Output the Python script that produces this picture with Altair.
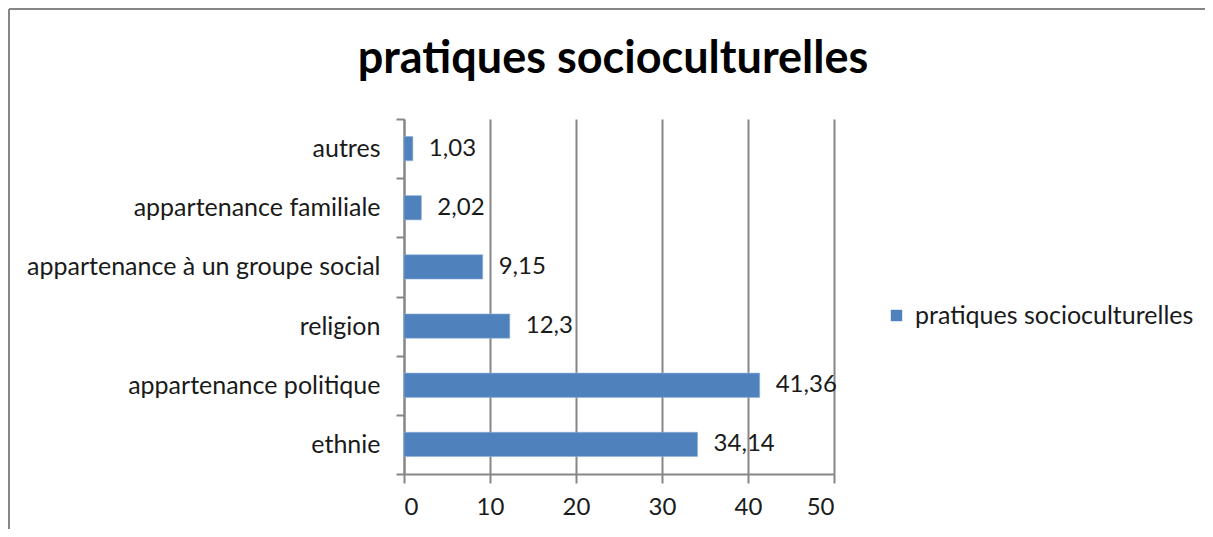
import altair as alt
import pandas as pd

categories = ["autres", "appartenance familiale", "appartenance à un groupe social",
              "religion", "appartenance politique", "ethnie"]
values = [1.03, 2.02, 9.15, 12.3, 41.36, 34.14]
series_name = "pratiques socioculturelles"
x_ticks = [0, 10, 20, 30, 40, 50]

df = pd.DataFrame({
    "cat": categories,
    "val": values,
    "lab": [str(v).replace(".", ",") for v in values],
    "serie": [series_name] * len(values),
})

FONT = "Lato"
GRAY = "#868686"
TXT = "#1a1a1a"
W, H = 430, 355

y_enc = alt.Y("cat:N", sort=categories, title=None,
              scale=alt.Scale(paddingInner=0, paddingOuter=0),
              axis=alt.Axis(tickBand="extent", tickSize=8, tickColor=GRAY, tickWidth=2,
                            domainColor=GRAY, domainWidth=2, labelPadding=16,
                            labelFont=FONT, labelFontSize=25, labelColor=TXT,
                            labelLimit=500, grid=False))
x_enc = alt.X("val:Q", title=None,
              scale=alt.Scale(domain=[0, 50], nice=False),
              axis=alt.Axis(values=x_ticks, tickSize=9, tickColor=GRAY, tickWidth=2,
                            domainColor=GRAY, domainWidth=2, grid=True,
                            gridColor=GRAY, gridWidth=2, labelPadding=12,
                            labelFont=FONT, labelFontSize=24, labelColor=TXT))

bars = alt.Chart(df).mark_bar(stroke="#8fb0d9", strokeWidth=0.6,
                              height=alt.RelativeBandSize(0.41)).encode(
    x=x_enc,
    y=y_enc,
    color=alt.Color("serie:N", title=None,
                    scale=alt.Scale(range=["#4F81BD"]),
                    legend=alt.Legend(orient="none", legendX=480, legendY=184,
                                      symbolType="square", symbolSize=130,
                                      symbolStrokeWidth=0, labelOffset=6,
                                      labelFont=FONT, labelFontSize=25,
                                      labelColor=TXT, padding=0, labelLimit=400)),
)

labels = alt.Chart(df).mark_text(align="left", baseline="middle", dx=16,
                                 font=FONT, fontSize=24, color=TXT).encode(
    x="val:Q",
    y=alt.Y("cat:N", sort=categories),
    text="lab:N",
)

frame_left = alt.Chart(df).mark_rule(color=GRAY, strokeWidth=2).encode(
    x=alt.value(-395), y=alt.value(-110), y2=alt.value(H + 60))
frame_top = alt.Chart(df).mark_rule(color=GRAY, strokeWidth=2).encode(
    x=alt.value(-395), x2=alt.value(W + 380), y=alt.value(-110))

chart = alt.layer(frame_left, frame_top, bars, labels).properties(
    width=W, height=H,
    title=alt.TitleParams(series_name, font=FONT, fontSize=45, fontWeight="bold",
                          color="#000000", anchor="middle", frame="group",
                          dx=-6, offset=-74),
    autosize=alt.AutoSizeParams(type="none"),
    padding={"left": 396, "top": 111, "right": 371, "bottom": 55},
).configure(background="white").configure_view(stroke="transparent", strokeWidth=0)

chart.save("out.html", embed_options={"renderer": "svg", "actions": False})
